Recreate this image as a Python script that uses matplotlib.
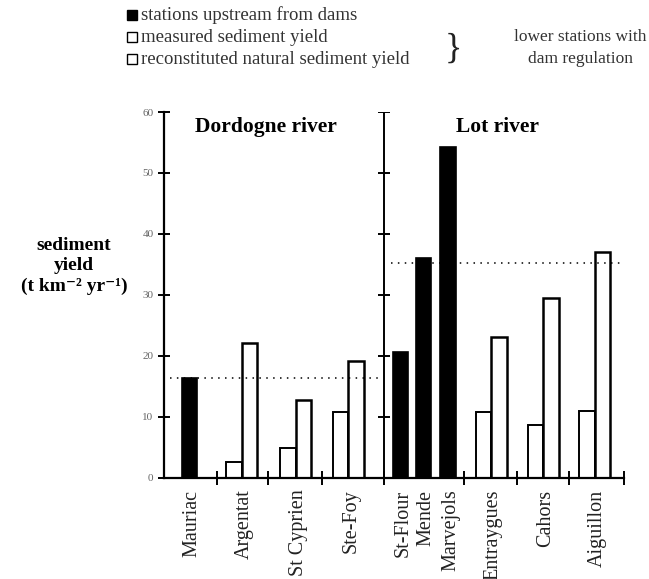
import matplotlib
matplotlib.use('AGG')

import matplotlib.pyplot as plt
from matplotlib.patches import Rectangle

# ---------------------------------------------------------------------------
# data (t km-2 yr-1)
# ---------------------------------------------------------------------------
upstream_names = ['Mauriac', 'St-Flour', 'Mende', 'Marvejols']
upstream_yield = [16.3, 20.6, 36.0, 54.2]

lower_names = ['Argentat', 'St Cyprien', 'Ste-Foy', 'Entraygues', 'Cahors', 'Aiguillon']
measured_yield = [2.6, 4.9, 10.7, 10.7, 8.6, 10.9]
natural_yield = [22.1, 12.7, 19.2, 23.1, 29.5, 37.0]

dordogne_ref = 16.3
lot_ref = 35.2

# layout in bar-width units
upstream_pos = [1.65, 15.27, 16.75, 18.34]
lower_pos = [5.03, 8.50, 11.90, 21.10, 24.47, 27.80]
xticks = [3.42, 6.71, 10.19, 14.19, 19.35, 22.77, 26.13, 29.68]
divider = 14.19
yticks = [0, 10, 20, 30, 40, 50, 60]
W, H = 649, 579

plt.rcParams['font.family'] = ['Liberation Serif', 'DejaVu Serif']

fig = plt.figure(figsize=(W / 100, H / 100), dpi=100)
ax = fig.add_axes([164 / W, 1 - 477.5 / H, (624 - 164) / W, (477.5 - 112) / H])
ax.set_xlim(0, 29.68)
ax.set_ylim(0, 60)

bw = 1.0
ax.bar(upstream_pos, upstream_yield, width=bw, color='black', edgecolor='black', lw=1.2)
ax.bar([p - bw / 2 for p in lower_pos], measured_yield, width=bw, color='white',
       edgecolor='black', lw=1.4)
ax.bar([p + bw / 2 for p in lower_pos], natural_yield, width=bw, color='white',
       edgecolor='black', lw=1.8)

# reference levels of the upstream stations
ax.hlines(dordogne_ref, 0.4, 14.1, colors='black', linestyles=(0, (1, 3.5)), lw=1.1)
ax.hlines(lot_ref, 14.65, 29.6, colors='black', linestyles=(0, (1, 3.5)), lw=1.1)

# divider between the two basins
ax.vlines(divider, 0, 60, colors='black', lw=1.4)
ax.plot([divider] * 6, yticks[1:], ls='none', marker='_', ms=9, mew=1.4, color='black')

for s in ['top', 'right']:
    ax.spines[s].set_visible(False)
for s in ['left', 'bottom']:
    ax.spines[s].set_linewidth(1.6)

ax.set_yticks(yticks)
ax.set_yticklabels([str(t) for t in yticks], fontsize=8, color='#666666')
ax.tick_params(axis='y', direction='inout', length=9, width=1.4, pad=3)
ax.set_xticks(xticks)
ax.set_xticklabels([])
ax.tick_params(axis='x', direction='inout', length=10, width=1.4)

# station names under the bars
names = upstream_names + lower_names
pos = upstream_pos + lower_pos
for n, p in zip(names, pos):
    ax.text(p + 0.15, -2.0, n, rotation=90, ha='center', va='top', fontsize=14.5,
            color='#222222', clip_on=False)

ax.text(6.6, 57.6, 'Dordogne river', ha='center', va='center', fontsize=15.5,
        fontweight='bold')
ax.text(21.5, 57.6, 'Lot river', ha='center', va='center', fontsize=15.5,
        fontweight='bold')

fig.text(74 / W, 1 - 266 / H, 'sediment\nyield\n(t km⁻² yr⁻¹)', ha='center',
         va='center', fontsize=14, fontweight='bold', linespacing=1.25)

# legend
rows = [15, 37, 59]
labels = ['stations upstream from dams', 'measured sediment yield',
          'reconstituted natural sediment yield']
fills = ['black', 'white', 'white']
for y, lab, fc in zip(rows, labels, fills):
    fig.add_artist(Rectangle((127 / W, 1 - (y + 5) / H), 10 / W, 10 / H, facecolor=fc,
                             edgecolor='black', lw=1.0, transform=fig.transFigure))
    fig.text(141 / W, 1 - y / H, lab, ha='left', va='center', fontsize=13.5,
             color='#333333')

fig.text(453 / W, 1 - 49 / H, '}', ha='center', va='center', fontsize=26,
         color='#222222')
fig.text(580 / W, 1 - 37 / H, 'lower stations with', ha='center', va='center',
         fontsize=12.5, color='#333333')
fig.text(580 / W, 1 - 59 / H, 'dam regulation', ha='center', va='center',
         fontsize=12.5, color='#333333')

plt.savefig('out.png', dpi=100)
plt.close(fig)
